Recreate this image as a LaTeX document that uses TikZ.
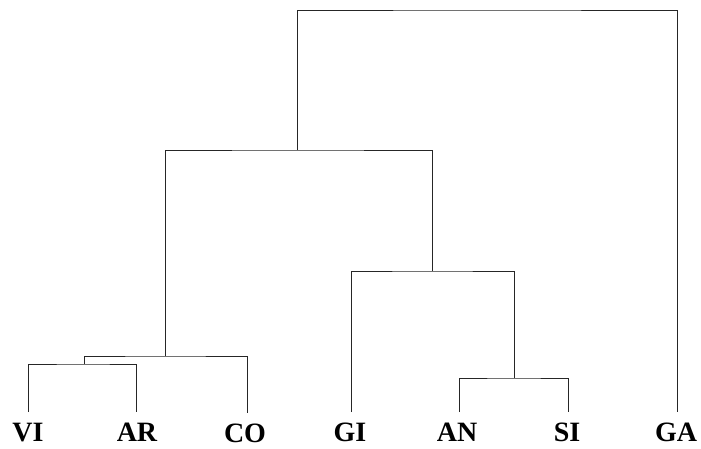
\documentclass[tikz,border=0pt]{standalone}
\usepackage{fontspec}
\setmainfont{Liberation Serif}
\begin{document}
\begin{tikzpicture}[x=1pt,y=-1pt,
  branch/.style={draw=black!85,line width=0.9pt},
  leaflabel/.style={anchor=base,font=\bfseries\fontsize{28}{28}\selectfont,inner sep=0pt}]
\useasboundingbox (0,0) rectangle (701,449);
% leaf tops
\coordinate (vi) at (28,412);
\coordinate (ar) at (136,412);
\coordinate (co) at (247,413);
\coordinate (gi) at (351,412);
\coordinate (an) at (459,412);
\coordinate (si) at (568,412);
\coordinate (ga) at (677,412);
% merge points
\coordinate (m1) at (84,364);
\coordinate (m2) at (165,356);
\coordinate (m3) at (297,150);
\coordinate (m4) at (432,271);
\coordinate (m5) at (514,378);
\coordinate (root) at (487,10);
% labels
\node[leaflabel] (lvi) at (28,441) {VI};
\node[leaflabel] (lar) at (137,441) {AR};
\node[leaflabel] (lco) at (245,442) {CO};
\node[leaflabel] (lgi) at (350,441) {GI};
\node[leaflabel] (lan) at (457,441) {AN};
\node[leaflabel] (lsi) at (567,441) {SI};
\node[leaflabel] (lga) at (676,441) {GA};
% branches
\draw[branch] (vi) |- (m1) -| (ar);
\draw[branch] (m1) |- (m2) -| (co);
\draw[branch] (an) |- (m5) -| (si);
\draw[branch] (gi) |- (m4) -| (m5);
\draw[branch] (m2) |- (m3) -| (m4);
\draw[branch] (m3) |- (root) -| (ga);
\end{tikzpicture}
\end{document}
